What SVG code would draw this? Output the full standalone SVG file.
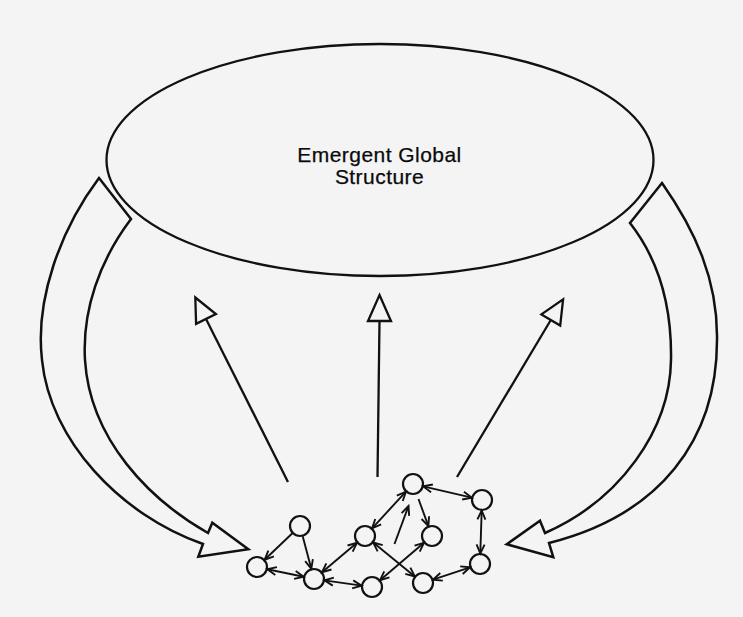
<svg xmlns="http://www.w3.org/2000/svg" width="743" height="617" viewBox="0 0 743 617">
<style>
.ln{fill:none;stroke:#111;stroke-width:2.3;stroke-linejoin:miter}
.big{fill:#f4f4f4;stroke:#111;stroke-width:2.5;stroke-linejoin:miter}
.head{fill:#f4f4f4;stroke:#111;stroke-width:2.3;stroke-linejoin:miter}
.node{fill:#f4f4f4;stroke:#111;stroke-width:2.2}
.e{fill:none;stroke:#111;stroke-width:1.9}
.lbl{font-family:"Liberation Sans",Arial,Helvetica,sans-serif;font-size:21px;letter-spacing:0.45px;fill:#0a0a0a;stroke:#0a0a0a;stroke-width:0.25;text-anchor:middle}
</style>
<defs>
<marker id="ah" viewBox="-11 -6 13 12" refX="0" refY="0" markerWidth="13" markerHeight="12" markerUnits="userSpaceOnUse" orient="auto-start-reverse">
<path d="M-9,-4 L0,0 L-9,4" fill="none" stroke="#111" stroke-width="1.9"/>
</marker>
</defs>
<rect x="0" y="0" width="743" height="617" fill="#f4f4f4"/>

<g id="global">
<ellipse cx="380" cy="160" rx="273.5" ry="116" class="ln"/>
<text class="lbl" x="379.5" y="162">Emergent Global</text>
<text class="lbl" x="379.5" y="184">Structure</text>
</g>

<g id="feedback-left">
<path class="big" d="M99,178 L131,219 C100,260 82,310 85,360 C90,440 150,500 208,533 L212.3,522.7 L248.3,549.3 L198.3,556.7 L203,544 C120,515 50,440 42,360 C35,300 60,230 99,178 Z"/>
</g>
<g id="feedback-right">
<path class="big" d="M662,183 L630,223 C655,255 672,300 671,360 C670,430 620,500 545,533 L540,520.7 L506.7,544.3 L553.3,557.3 L549,543 C660,515 717,440 717,340 C718,280 695,230 662,183 Z"/>
</g>

<g id="emergence">
<line class="ln" x1="288" y1="482" x2="206" y2="319"/>
<polygon class="head" points="195.3,297.5 215.9,314.1 196.1,323.9"/>
<line class="ln" x1="377.5" y1="477" x2="379.5" y2="321"/>
<polygon class="head" points="379.5,295 391,321 368,321"/>
<line class="ln" x1="457" y1="477" x2="550.8" y2="320"/>
<polygon class="head" points="563.1,299.4 560.2,325.6 541.4,314.4"/>
</g>

<g id="nodes">
<g id="nA"><circle class="node" cx="300" cy="526" r="10"/></g>
<g id="nB"><circle class="node" cx="257" cy="567" r="10"/></g>
<g id="nC"><circle class="node" cx="314" cy="579" r="10"/></g>
<g id="nD"><circle class="node" cx="365" cy="536" r="10"/></g>
<g id="nE"><circle class="node" cx="413" cy="484" r="10"/></g>
<g id="nF"><circle class="node" cx="482" cy="500" r="10"/></g>
<g id="nG"><circle class="node" cx="432" cy="536" r="10"/></g>
<g id="nH"><circle class="node" cx="480" cy="564" r="10"/></g>
<g id="nI"><circle class="node" cx="372" cy="587" r="10"/></g>
<g id="nJ"><circle class="node" cx="423" cy="583" r="10"/></g>
</g>

<g id="links">
<line class="e" x1="292.4" y1="533.2" x2="264.6" y2="559.8" marker-end="url(#ah)"/>
<line class="e" x1="302.7" y1="536.2" x2="311.3" y2="568.8" marker-end="url(#ah)"/>
<line class="e" x1="267.3" y1="569.2" x2="303.7" y2="576.8" marker-start="url(#ah)" marker-end="url(#ah)"/>
<line class="e" x1="322" y1="572.2" x2="357" y2="542.8" marker-start="url(#ah)" marker-end="url(#ah)"/>
<line class="e" x1="324.4" y1="580.4" x2="361.6" y2="585.6" marker-start="url(#ah)" marker-end="url(#ah)"/>
<line class="e" x1="372.1" y1="528.3" x2="405.9" y2="491.7" marker-start="url(#ah)" marker-end="url(#ah)"/>
<line class="e" x1="418.5" y1="499" x2="428.4" y2="526.1" marker-end="url(#ah)"/>
<line class="e" x1="423.2" y1="486.4" x2="471.8" y2="497.6" marker-start="url(#ah)" marker-end="url(#ah)"/>
<line class="e" x1="481.7" y1="510.5" x2="480.3" y2="553.5" marker-start="url(#ah)" marker-end="url(#ah)"/>
<line class="e" x1="470" y1="567.3" x2="433" y2="579.7" marker-start="url(#ah)" marker-end="url(#ah)"/>
<line class="e" x1="373.2" y1="542.6" x2="414.8" y2="576.4" marker-start="url(#ah)" marker-end="url(#ah)"/>
<line class="e" x1="424" y1="542.8" x2="380" y2="580.2" marker-start="url(#ah)" marker-end="url(#ah)"/>
<line class="e" x1="394.5" y1="544" x2="408.5" y2="506" marker-end="url(#ah)"/>
</g>
</svg>
